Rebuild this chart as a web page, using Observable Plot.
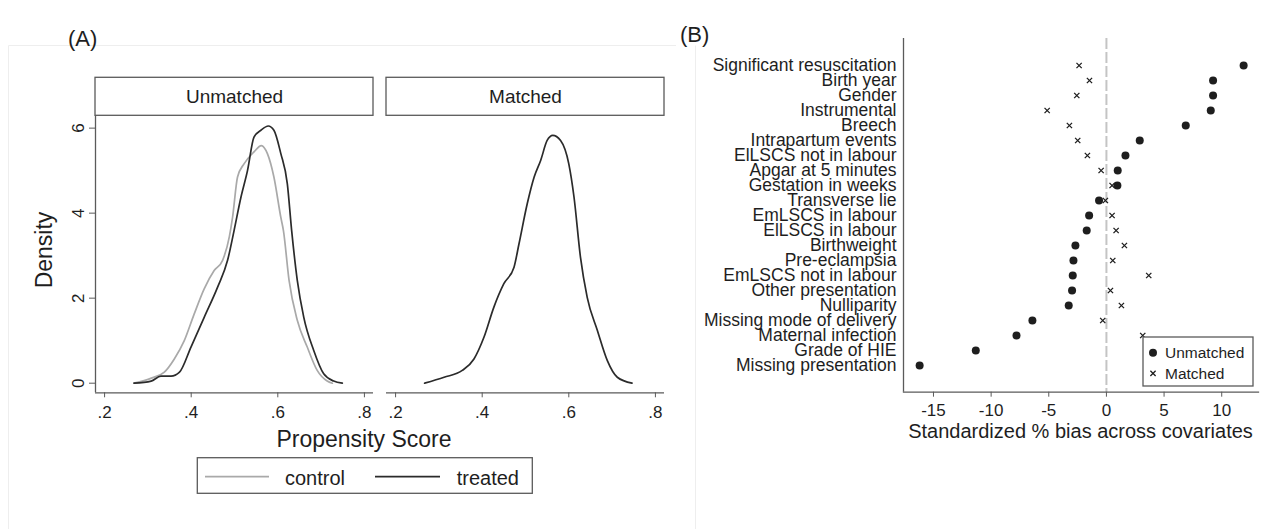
<!DOCTYPE html>
<html><head><meta charset="utf-8">
<script src="https://cdn.jsdelivr.net/npm/d3@7"></script>
<script src="https://cdn.jsdelivr.net/npm/@observablehq/plot@0.6"></script>
<style>
body{margin:0;background:#fff;}
#wrap{position:relative;width:1277px;height:529px;overflow:hidden;background:#fff;}
#wrap svg{position:absolute;top:0;}
</style></head><body><div id="wrap"></div>
<script>
const FONT = '"Liberation Sans", Arial, Helvetica, sans-serif';
const INK = "#1e1e1e", AXIS = "#5a5a5a";

// ---------- Panel A data ----------
const panels = ["Unmatched", "Matched"];
const psTicks = [0.2, 0.4, 0.6, 0.8];
const densityTicks = [0, 2, 4, 6];
// [propensity score, density]
const unmatchedControl = [[0.268,0],[0.308,0.12],[0.338,0.26],[0.361,0.57],[0.384,1.0],[0.407,1.63],[0.430,2.22],[0.453,2.65],[0.4725,2.89],[0.488,3.44],[0.4955,3.9],[0.507,4.85],[0.522,5.16],[0.545,5.44],[0.562,5.59],[0.576,5.4],[0.591,4.85],[0.607,3.9],[0.613,3.59],[0.626,2.42],[0.645,1.48],[0.668,0.85],[0.691,0.30],[0.714,0.05],[0.726,0]];
const unmatchedTreated = [[0.268,0],[0.3075,0.05],[0.330,0.165],[0.3535,0.165],[0.373,0.26],[0.3995,0.85],[0.430,1.55],[0.461,2.26],[0.484,2.89],[0.499,3.59],[0.515,4.38],[0.530,5.0],[0.545,5.79],[0.561,5.95],[0.578,6.05],[0.591,5.95],[0.607,5.4],[0.622,4.69],[0.632,3.59],[0.645,2.42],[0.660,1.55],[0.683,0.77],[0.706,0.22],[0.729,0.05],[0.749,0]];
const matchedTreated = [[0.267,0],[0.312,0.14],[0.354,0.3],[0.381,0.57],[0.404,1.08],[0.427,1.79],[0.450,2.34],[0.4735,2.73],[0.485,3.28],[0.504,4.22],[0.520,4.85],[0.535,5.24],[0.550,5.71],[0.563,5.83],[0.581,5.71],[0.600,5.16],[0.612,4.38],[0.627,2.96],[0.6425,2.02],[0.666,1.24],[0.689,0.53],[0.712,0.14],[0.746,0]];

// ---------- Panel B data ----------
const covariates = ["Significant resuscitation","Birth year","Gender","Instrumental","Breech","Intrapartum events","ElLSCS not in labour","Apgar at 5 minutes","Gestation in weeks","Transverse lie","EmLSCS in labour","ElLSCS in labour","Birthweight","Pre-eclampsia","EmLSCS not in labour","Other presentation","Nulliparity","Missing mode of delivery","Maternal infection","Grade of HIE","Missing presentation"];
const biasUnmatched = [11.9, 9.25, 9.25, 9.05, 6.88, 2.89, 1.65, 0.98, 0.95, -0.64, -1.5, -1.71, -2.69, -2.86, -2.92, -2.98, -3.27, -6.42, -7.8, -11.33, -16.2];
const biasMatched = [-2.37, -1.47, -2.57, -5.14, -3.21, -2.49, -1.65, -0.46, 0.49, -0.09, 0.49, 0.84, 1.56, 0.55, 3.67, 0.35, 1.3, -0.32, 3.15, null, null];
const biasTicks = [-15, -10, -5, 0, 5, 10];

const toRows = (arr, panel, group) => arr.map(([ps, density]) => ({panel, group, ps, density}));
const controlRows = toRows(unmatchedControl, "Unmatched", "control");
const treatedRows = [...toRows(unmatchedTreated, "Unmatched", "treated"), ...toRows(matchedTreated, "Matched", "treated")];
const biasRows = covariates.map((c, i) => ({covariate: c, unmatched: biasUnmatched[i], matched: biasMatched[i]}));

const wrap = document.getElementById("wrap");

// ---------- Panel A ----------
const xDomA = [0.179, 0.821], yDomA = [-0.226, 6.29];
const stripTop = 7.184, stripMid = (yDomA[1] + stripTop) / 2;
const fmtPS = d => d3.format(".1f")(d).replace(/^0\./, ".");
const plotA = Plot.plot({
  width: 680, height: 529,
  marginLeft: 94.3, marginRight: 15, marginTop: 115.3, marginBottom: 136.7,
  style: {fontFamily: FONT, fontSize: "17px", color: INK, background: "none", overflow: "visible"},
  fx: {domain: panels, paddingInner: 0.0445, paddingOuter: 0, axis: null, label: null},
  x: {domain: xDomA, label: null},
  y: {domain: yDomA, label: null},
  marks: [
    Plot.rect(panels, {fx: d => d, x1: xDomA[0], x2: xDomA[1], y1: yDomA[1], y2: stripTop, fill: "white", stroke: AXIS, strokeWidth: 1.3}),
    Plot.text(panels, {fx: d => d, x: (xDomA[0] + xDomA[1]) / 2, y: stripMid, text: d => d, fontSize: 19, fill: INK}),
    Plot.ruleY([yDomA[0]], {stroke: AXIS, strokeWidth: 1.3}),
    Plot.ruleX(["Unmatched"], {fx: d => d, x: xDomA[0], stroke: AXIS, strokeWidth: 1.3}),
    Plot.axisX({ticks: psTicks, tickSize: 5, tickPadding: 8, tickFormat: fmtPS, fontSize: 17, label: null, stroke: AXIS, fill: INK}),
    Plot.axisY({ticks: densityTicks, tickSize: 6, tickFormat: () => "", label: null, stroke: AXIS}),
    Plot.text(densityTicks, {fx: () => "Unmatched", x: xDomA[0], y: d => d, text: d => String(d), rotate: -90, dx: -17, fontSize: 17, fill: INK}),
    Plot.line(controlRows, {fx: "panel", x: "ps", y: "density", stroke: "#a9a9a9", strokeWidth: 1.7, curve: "monotone-x"}),
    Plot.line(treatedRows, {fx: "panel", x: "ps", y: "density", stroke: "#2b2b2b", strokeWidth: 1.7, curve: "monotone-x"})
  ]
});
plotA.style.left = "0px";
wrap.appendChild(plotA);

// ---------- Panel B ----------
const xDomB = [-17.6, 13.19];
const plotB = Plot.plot({
  width: 597, height: 529,
  marginLeft: 223, marginRight: 19, marginTop: 38, marginBottom: 137.3,
  style: {fontFamily: FONT, fontSize: "17px", color: INK, background: "none", overflow: "visible"},
  x: {domain: xDomB, label: null},
  y: {type: "point", domain: covariates, padding: 1.5, label: null},
  marks: [
    Plot.ruleX([0], {stroke: "#c4c4c4", strokeWidth: 2, strokeDasharray: "11,3"}),
    Plot.ruleX([xDomB[0]], {stroke: AXIS, strokeWidth: 1.3}),
    Plot.frame({anchor: "bottom", stroke: AXIS, strokeWidth: 1.3}),
    Plot.axisX({ticks: biasTicks, tickSize: 5, tickPadding: 7, tickFormat: d => String(d), fontSize: 17, label: null, stroke: AXIS, fill: INK}),
    Plot.axisY({tickSize: 0, tickPadding: 7, fontSize: 17.5, label: null, fill: INK}),
    Plot.dot(biasRows, {x: "unmatched", y: "covariate", r: 4, fill: INK}),
    Plot.dot(biasRows.filter(d => d.matched != null), {x: "matched", y: "covariate", symbol: "times", r: 2.5, stroke: INK, strokeWidth: 1.3})
  ]
});
plotB.style.left = "680px";
wrap.appendChild(plotB);

// ---------- Annotations / legends ----------
const ov = d3.create("svg").attr("width", 1277).attr("height", 529)
  .style("left", "0px").style("font-family", FONT).style("pointer-events", "none");
ov.append("path").attr("d", "M8.5,529V45.5H676").attr("fill", "none").attr("stroke", "#eeeeee");
ov.append("path").attr("d", "M695.5,529V45.5").attr("fill", "none").attr("stroke", "#eeeeee");
ov.append("text").attr("x", 68).attr("y", 45.5).attr("font-size", 22).attr("fill", INK).text("(A)");
ov.append("text").attr("x", 680).attr("y", 42.2).attr("font-size", 22).attr("fill", INK).text("(B)");
ov.append("text").attr("x", 364).attr("y", 447.3).attr("font-size", 23).attr("text-anchor", "middle").attr("fill", INK).text("Propensity Score");
ov.append("text").attr("transform", "translate(51.7,250) rotate(-90)").attr("font-size", 23).attr("text-anchor", "middle").attr("fill", INK).text("Density");
ov.append("text").attr("x", 1080.5).attr("y", 438.3).attr("font-size", 20).attr("text-anchor", "middle").attr("fill", INK).text("Standardized % bias across covariates");
// legend A
const lgA = ov.append("g");
lgA.append("rect").attr("x", 197.3).attr("y", 457.7).attr("width", 335).attr("height", 35.6).attr("fill", "white").attr("stroke", AXIS).attr("stroke-width", 1.3);
lgA.append("line").attr("x1", 205).attr("x2", 269).attr("y1", 476.7).attr("y2", 476.7).attr("stroke", "#a9a9a9").attr("stroke-width", 1.7);
lgA.append("text").attr("x", 285).attr("y", 485).attr("font-size", 20).attr("fill", INK).text("control");
lgA.append("line").attr("x1", 375).attr("x2", 440).attr("y1", 476.7).attr("y2", 476.7).attr("stroke", "#2b2b2b").attr("stroke-width", 1.7);
lgA.append("text").attr("x", 456.7).attr("y", 485).attr("font-size", 20).attr("fill", INK).text("treated");
// legend B
const lgB = ov.append("g");
lgB.append("rect").attr("x", 1143).attr("y", 337).attr("width", 110).attr("height", 49).attr("fill", "white").attr("stroke", AXIS).attr("stroke-width", 1.3);
lgB.append("circle").attr("cx", 1153).attr("cy", 352.7).attr("r", 4).attr("fill", INK);
lgB.append("path").attr("d", d3.symbol(d3.symbolTimes, Math.PI * 2.5 * 2.5)()).attr("transform", "translate(1153,373.3)").attr("stroke", INK).attr("stroke-width", 1.3).attr("fill", "none");
lgB.append("text").attr("x", 1165).attr("y", 358.3).attr("font-size", 15.5).attr("fill", INK).text("Unmatched");
lgB.append("text").attr("x", 1165).attr("y", 379.3).attr("font-size", 15.5).attr("fill", INK).text("Matched");
wrap.appendChild(ov.node());
</script></body></html>
